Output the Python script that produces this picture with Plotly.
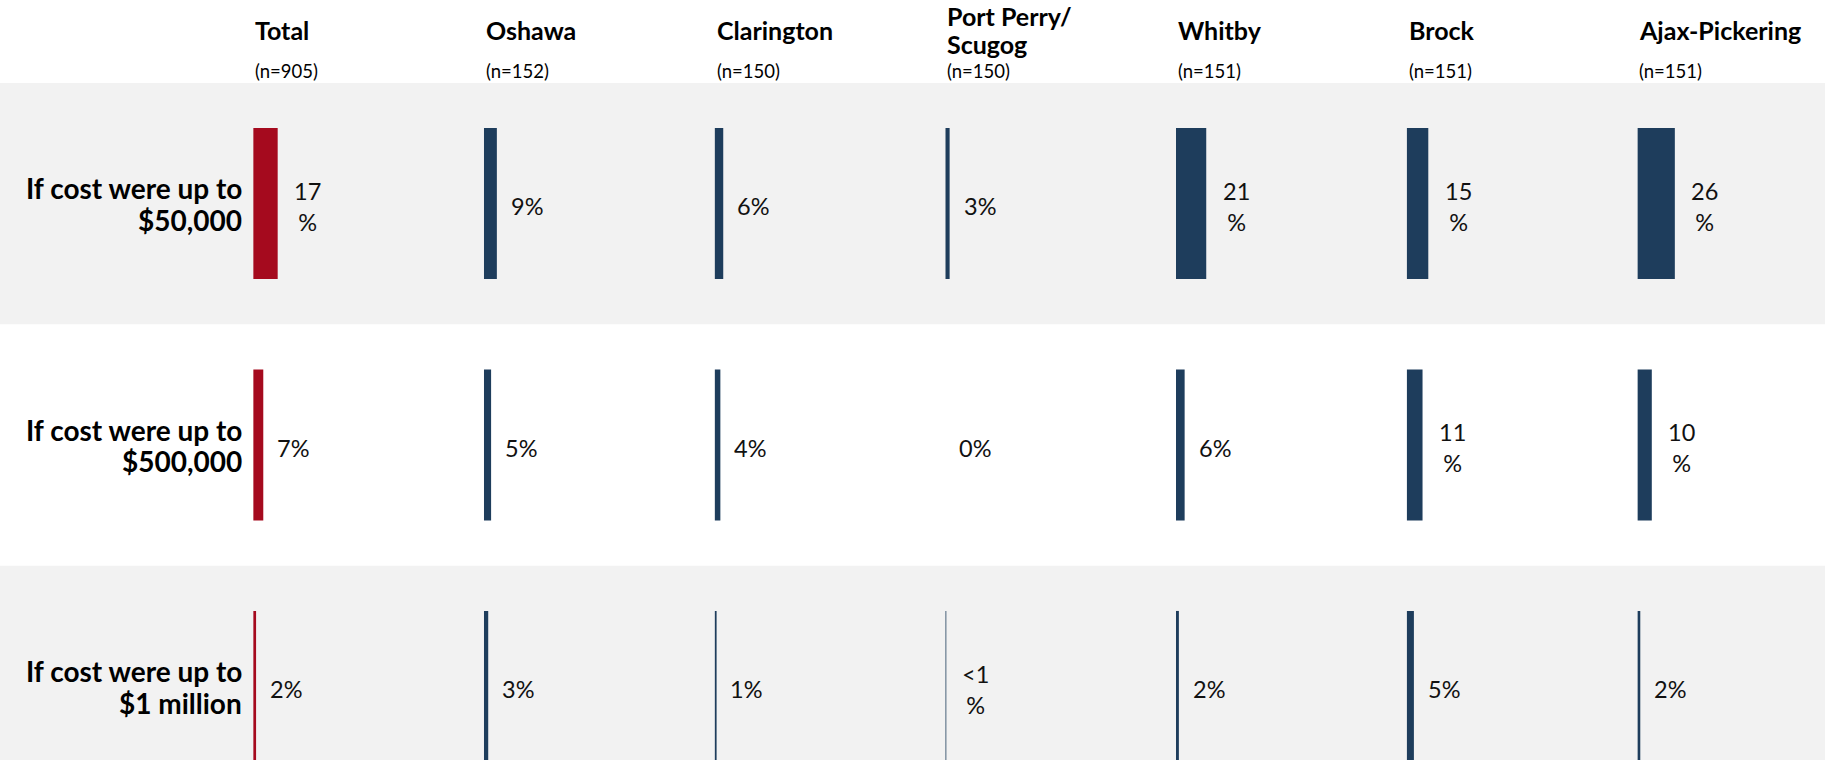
import plotly.graph_objects as go

# ---------------- data ----------------
columns = ["Total", "Oshawa", "Clarington", "Port Perry/<br>Scugog", "Whitby", "Brock", "Ajax-Pickering"]
sample_sizes = ["(n=905)", "(n=152)", "(n=150)", "(n=150)", "(n=151)", "(n=151)", "(n=151)"]
rows = ["If cost were up to $50,000", "If cost were up to $500,000", "If cost were up to $1 million"]

# values per column, in row order
total = [17, 7, 2]
oshawa = [9, 5, 3]
clarington = [6, 4, 1]
port_perry = [3, 0, 0.2]   # last value shown as "<1"
whitby = [21, 6, 2]
brock = [15, 11, 5]
ajax_pickering = [26, 10, 2]
series = [total, oshawa, clarington, port_perry, whitby, brock, ajax_pickering]

# ---------------- style ----------------
W, H = 1825, 760
RED = "#a50a1e"
NAVY = "#1e3d5c"
BAND = "#f2f2f2"
FONT = "Lato, Open Sans, sans-serif"

col_left0 = 253.2     # px
col_step = 230.7      # px
col_width = 185.0     # px
px_per_pct = 1.44
plot_top = 82.7       # px
row_px = 241.5

xrange_max = col_width / px_per_pct
y_dom_top = 1 - plot_top / H
y_span = (H - plot_top) / row_px


def label(v):
    if 0 < v < 1:
        return "<1<br>%"
    s = f"{v:g}"
    return f"{s}<br>%" if len(s) >= 2 else f"{s}%"


fig = go.Figure()
annotations = []
for i, (col, vals) in enumerate(zip(columns, series)):
    xa = "x" if i == 0 else f"x{i+1}"
    fig.add_trace(go.Bar(
        x=vals, y=rows, orientation="h", xaxis=xa, yaxis="y",
        marker=dict(color=RED if i == 0 else NAVY, line=dict(width=0)),
        hoverinfo="x+y", showlegend=False,
    ))
    left = (col_left0 + i * col_step) / W
    axname = "xaxis" if i == 0 else f"xaxis{i+1}"
    fig.layout[axname] = dict(domain=[left, left + col_width / W], range=[0, xrange_max],
                              visible=False, anchor="y", fixedrange=True)
    # headers (one annotation per line)
    lines = col.split("<br>")
    n = len(lines)
    for j, ln in enumerate(lines):
        yc = 30.0 + (j - (n - 1) / 2) * 27.5
        annotations.append(dict(xref=f"{xa} domain", x=0, yref="paper", y=1 - yc / H,
                                xanchor="left", yanchor="middle", align="left", showarrow=False,
                                text=f"<b>{ln}</b>", font=dict(family=FONT, size=25, color="#000")))
    annotations.append(dict(xref=f"{xa} domain", x=0, yref="paper", y=1 - 71.5 / H,
                            xanchor="left", yanchor="middle", align="left", showarrow=False,
                            text=sample_sizes[i], font=dict(family=FONT, size=18.5, color="#000")))
    # value labels
    for r, v in zip(rows, vals):
        annotations.append(dict(xref=xa, x=v, yref="y", y=r, xanchor="center", yanchor="middle",
                                xshift=30, yshift=-3, align="center", showarrow=False, text=label(v),
                                font=dict(family=FONT, size=23.5, color="#111")))

# row labels (two right-aligned lines each)
for r in rows:
    parts = r.split(" $")
    lines = [parts[0], "$" + parts[1]]
    for j, ln in enumerate(lines):
        annotations.append(dict(xref="x domain", x=0, yref="y", y=r, xanchor="right",
                                yanchor="middle", xshift=-9, yshift=(0.5 - j) * 31.5 - 0.5,
                                align="right", showarrow=False, text=f"<b>{ln}</b>",
                                font=dict(family=FONT, size=28, color="#000")))

shapes = []
for k in (0, 2):
    shapes.append(dict(type="rect", xref="paper", x0=0, x1=1, yref="y", y0=k - 0.5, y1=k + 0.5,
                       fillcolor=BAND, line=dict(width=0), layer="below"))

fig.update_layout(
    width=W, height=H,
    margin=dict(l=0, r=0, t=0, b=0),
    paper_bgcolor="white", plot_bgcolor="rgba(0,0,0,0)",
    bargap=1 - 151 / row_px,
    yaxis=dict(domain=[0, y_dom_top], range=[-0.5 + y_span, -0.5], anchor="x",
               type="category", categoryorder="array", categoryarray=rows,
               showticklabels=False, ticks="", showgrid=False, zeroline=False, showline=False,
               automargin=False, fixedrange=True),
    shapes=shapes, annotations=annotations,
    font=dict(family=FONT),
)

fig.write_html("out.html", config={"displayModeBar": False},
               post_script="document.body.style.margin='0px';")
